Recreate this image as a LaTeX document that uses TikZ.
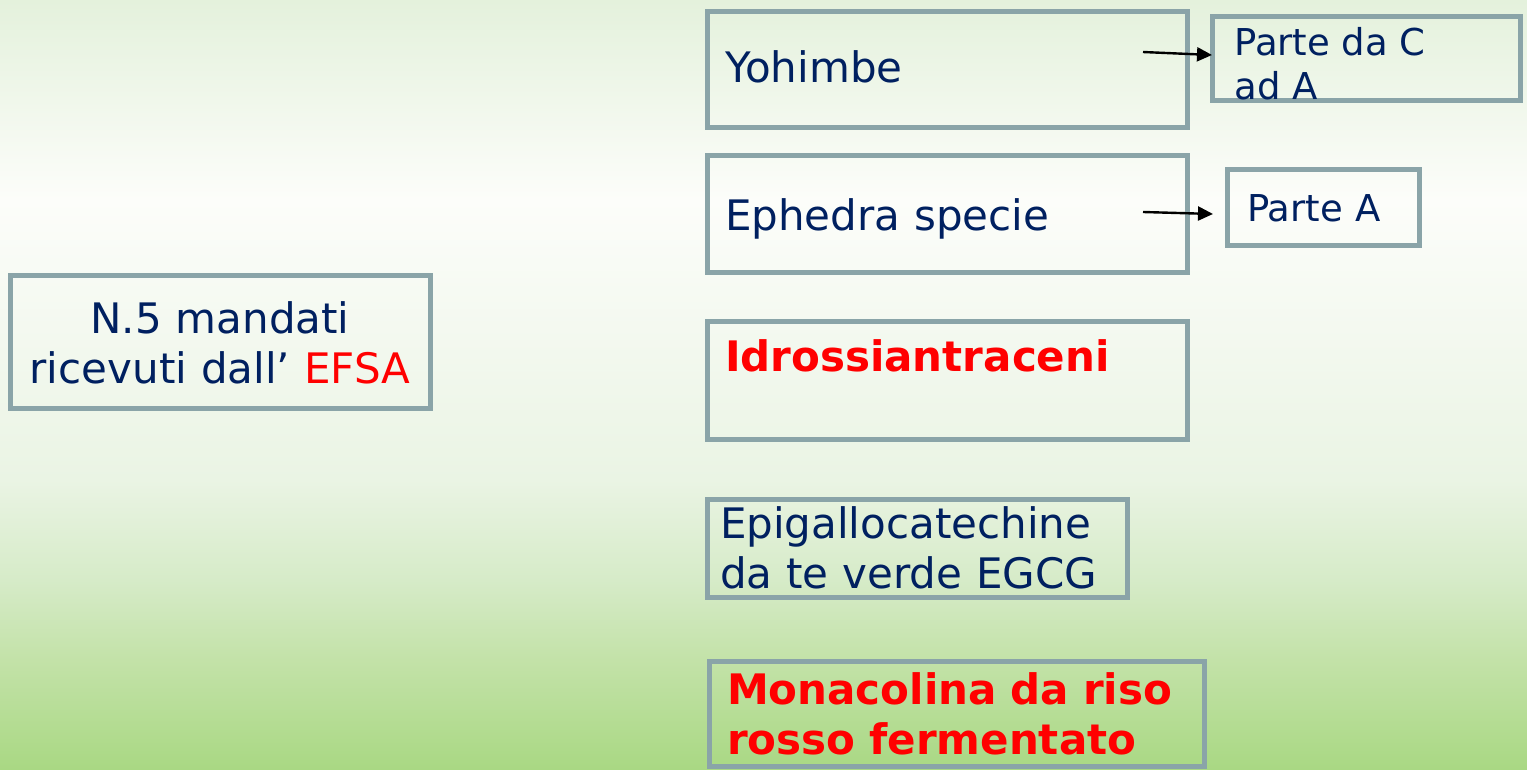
\documentclass[tikz,border=0pt]{standalone}
\usepackage{fontspec}
\setmainfont{DejaVu Sans}
\usepackage{xcolor}
\usepackage{tikz}
\usetikzlibrary{arrows.meta, positioning, calc}
\definecolor{navytext}{RGB}{0,32,96}
\definecolor{boxgray}{RGB}{138,164,168}
\definecolor{efsared}{RGB}{255,0,0}
\definecolor{bgbottom}{RGB}{169,216,131}
\definecolor{bglow}{RGB}{195,226,168}
\definecolor{bgmid}{RGB}{214,235,200}
\definecolor{bgpale}{RGB}{234,244,228}
\definecolor{bgwhite}{RGB}{252,253,250}
\definecolor{bgtop}{RGB}{228,241,220}
\pgfdeclareverticalshading{slidebg}{100bp}{color(0bp)=(bgbottom); color(25bp)=(bgbottom); color(32.15bp)=(bglow); color(37.35bp)=(bgmid); color(43.85bp)=(bgpale); color(62bp)=(bgwhite); color(75bp)=(bgtop); color(100bp)=(bgtop)}

\begin{document}
\begin{tikzpicture}[
    >={Triangle[length=7.5pt, width=7pt]},
    box/.style={draw=boxgray, line width=2.5pt, outer sep=0pt, inner xsep=9pt, inner ysep=2pt, align=left, text=navytext, font=\fontsize{21}{25}\selectfont},
    small/.style={font=\fontsize{18.5}{22}\selectfont},
    hot/.style={text=efsared, font=\fontsize{21}{25}\selectfont\bfseries},
    arr/.style={->, line width=1.2pt, black},
]
    \shade[shading=slidebg] (0,0) rectangle (763.5pt,-385pt);
    \useasboundingbox (0,0) rectangle (763.5pt,-385pt);

    \node[box, align=center, text width=192pt, minimum height=66.5pt] (efsa) at (110pt,-171.25pt) {N.5 mandati\\ricevuti dall’ \textcolor{efsared}{EFSA}};

    \node[box, text width=222pt, minimum height=58pt, text depth=3pt] (yoh) at (473.5pt,-35pt) {Yohimbe};
    \node[box, text width=222pt, minimum height=58.5pt, text depth=0pt, below=14pt of yoh] (eph) {Ephedra specie};
    \node[box, hot, text width=222pt, minimum height=58.5pt, below=24.5pt of eph] (idr) {Idrossiantraceni\\~};
    \node[box, text width=197pt, inner xsep=6.5pt, minimum height=49pt, below=30pt of idr.south west, anchor=north west] (epi) {Epigallocatechine\\da te verde EGCG};
    \node[box, hot, text width=229.5pt, minimum height=52.5pt, below=32pt of epi.south west, anchor=north west, xshift=1pt] (mon) {Monacolina da riso\\rosso fermentato};

    \node[box, minimum width=154pt, minimum height=42pt, right=12.5pt of yoh.north east, anchor=north west, yshift=-2.5pt] (pc) {};
    \node[small, text=navytext, align=left, anchor=north west, inner sep=0pt] (pctxt) at ($(pc.north west)+(11pt,-5pt)$) {Parte da C\\ad A};
    \node[box, small, text width=76pt, inner xsep=10pt, minimum height=38pt, right=20pt of eph.north east, anchor=north west, yshift=-7pt] (pa) {Parte A};

    \draw[arr] ($(yoh.east)+(-22pt,9pt)$) -- ($(pc.west)+(0,2pt)$);
    \draw[arr] ($(eph.east)+(-22pt,1.25pt)$) -- ($(pa.west)+(-7pt,-3pt)$);
\end{tikzpicture}
\end{document}
